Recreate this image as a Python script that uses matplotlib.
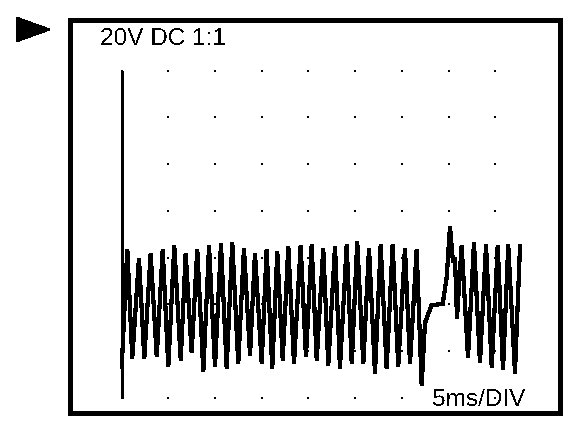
import matplotlib
matplotlib.use("Agg")
import matplotlib.pyplot as plt
from matplotlib.patches import Polygon
import numpy as np

# scope settings: 5 ms per division, 20 V per division
MS_PER_DIV = 5
V_PER_DIV = 20

# regular part of the trace, before the glitch (ms, V)
peak_t = [0.60, 1.85, 3.10, 4.39, 5.63, 6.85, 8.09, 9.35, 10.63, 11.84, 13.09, 14.27, 15.52,
          16.66, 17.84, 19.16, 20.34, 21.58, 22.84, 24.09, 25.22, 26.48, 27.73, 29.01, 30.33, 31.58]
peak_v = [63.6, 59.7, 61.8, 63.3, 65.0, 61.8, 63.6, 65.0, 65.8, 66.4, 64.0, 61.8, 63.3,
          62.5, 64.7, 65.0, 65.4, 64.0, 64.7, 65.4, 66.8, 64.0, 65.4, 65.4, 64.0, 63.3]
trough_t = [1.13, 2.42, 3.75, 4.99, 6.32, 7.49, 8.74, 9.99, 11.24, 12.48, 13.74, 14.99, 16.12,
            17.24, 18.45, 19.73, 20.88, 22.12, 23.37, 24.63, 25.87, 27.12, 28.37, 29.61, 30.87, 32.12]
trough_v = [16.9, 16.9, 17.6, 13.3, 16.1, 19.3, 11.1, 13.3, 12.6, 14.7, 18.3, 14.7, 12.6,
            16.1, 14.7, 17.6, 16.1, 14.0, 12.6, 14.7, 14.7, 10.4, 12.6, 13.3, 14.7, 5.4]

start_t, start_v = 0.0, 13.1

# glitch and the part after it (ms, V)
tail_t = [32.47, 33.19, 34.37, 34.80, 35.15, 35.47, 35.69, 35.90, 36.40, 37.08, 37.72, 38.36,
          39.01, 39.62, 40.26, 40.83, 41.39, 42.11, 42.65]
tail_v = [32.0, 39.7, 40.1, 51.7, 73.2, 58.1, 59.8, 34.1, 65.0, 17.4, 66.3, 14.9,
          65.4, 13.1, 65.0, 11.9, 65.4, 10.6, 65.0]

# stitch peaks and troughs together in time order
t = [start_t]
v = [start_v]
for pt, pv, tt, tv in zip(peak_t, peak_v, trough_t, trough_v):
    t += [pt, tt]
    v += [pv, tv]
t += tail_t
v += tail_v

# the scope screenshot is pure black/white, no smoothing
plt.rcParams["text.antialiased"] = False
plt.rcParams["lines.antialiased"] = False

fig = plt.figure(figsize=(5.76, 4.30), dpi=100)
ax = fig.add_axes([0.12118, 0.03907, 0.85069, 0.91326])
ax.set_xlim(-5.557, 46.91)
ax.set_ylim(-6.64, 161.54)
ax.set_xticks([])
ax.set_yticks([])
for s in ax.spines.values():
    s.set_linewidth(2.2)
    s.set_color("black")
    s.set_antialiased(False)

# dotted graticule
cols = np.arange(0, 9) * MS_PER_DIV
rows = np.arange(0, 8) * V_PER_DIV
gx, gy = np.meshgrid(cols, rows)
ax.plot(gx.ravel(), gy.ravel(), "s", color="black", markersize=1.7, markeredgewidth=0)

# left reference line
ax.plot([0, 0], [0, 7 * V_PER_DIV], color="black", lw=1.9, solid_capstyle="butt")

ax.plot(t, v, color="black", lw=2.3, solid_joinstyle="miter")

ax.text(0.062, 0.938, "20V DC 1:1", transform=ax.transAxes, fontsize=17.6,
        family="Liberation Sans", va="baseline")
ax.text(0.7386, 0.0183, "5ms/DIV", transform=ax.transAxes, fontsize=17.6,
        family="Liberation Sans", va="baseline")

# trigger marker at the top left
tri = Polygon([[17 / 576, 1 - 18 / 430], [17 / 576, 1 - 41 / 430], [49 / 576, 1 - 29.5 / 430]],
              closed=True, color="black", transform=fig.transFigure, antialiased=False)
fig.patches.append(tri)

fig.savefig("out.png", dpi=100)
